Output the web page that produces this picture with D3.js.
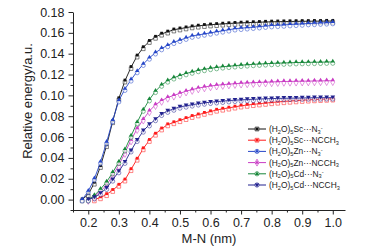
<!DOCTYPE html>
<html>
<head>
<meta charset="utf-8">
<script src="https://cdn.jsdelivr.net/npm/d3@7"></script>
<style>
  body { margin: 0; background: #fff; }
  text { font-family: "Liberation Sans", Arial, sans-serif; }
</style>
</head>
<body>
<div id="chart"></div>
<script>
// M-N distance (nm)
const dist = [0.18, 0.20, 0.22, 0.24, 0.26, 0.28, 0.30, 0.32, 0.34, 0.36, 0.38, 0.40, 0.42, 0.44,
  0.46, 0.48, 0.50, 0.52, 0.54, 0.56, 0.58, 0.60, 0.62, 0.64, 0.66, 0.68, 0.70, 0.72, 0.74,
  0.76, 0.78, 0.80, 0.82, 0.84, 0.86, 0.88, 0.90, 0.92, 0.94, 0.96, 0.98, 1.00];

// relative energy (a.u.), null = no point
const scN3 = [0.000, 0.005, 0.016, 0.032, 0.052, 0.075, 0.097, 0.114, 0.127, 0.138, 0.146, 0.152,
  0.156, 0.159, 0.161, 0.163, 0.164, 0.165, 0.166, 0.1667, 0.1673, 0.1678, 0.1682, 0.1686, 0.169,
  0.1693, 0.1696, 0.1698, 0.170, 0.1702, 0.1704, 0.1706, 0.1707, 0.1708, 0.1709, 0.171, 0.1711,
  0.1711, 0.1712, 0.1712, 0.1713, 0.1713];
const scNCCH3 = [null, null, 0.000, 0.002, 0.005, 0.009, 0.014, 0.019, 0.029, 0.039, 0.049, 0.057,
  0.063, 0.068, 0.072, 0.074, 0.076, 0.078, 0.080, 0.0815, 0.083, 0.0845, 0.086, 0.087, 0.088,
  0.089, 0.090, 0.0907, 0.0914, 0.092, 0.0926, 0.0932, 0.0937, 0.0942, 0.0946, 0.095, 0.0954,
  0.0957, 0.096, 0.0963, 0.0965, 0.0967];
const znN3 = [0.000, 0.008, 0.020, 0.036, 0.055, 0.076, 0.095, 0.106, 0.115, 0.123, 0.130, 0.136,
  0.141, 0.145, 0.148, 0.151, 0.153, 0.155, 0.157, 0.158, 0.159, 0.160, 0.161, 0.162, 0.163,
  0.164, 0.1645, 0.165, 0.1655, 0.166, 0.1665, 0.167, 0.1673, 0.1676, 0.168, 0.1683, 0.1686,
  0.169, 0.1692, 0.1695, 0.1697, 0.170];
const znNCCH3 = [null, 0.000, 0.003, 0.008, 0.014, 0.023, 0.033, 0.045, 0.057, 0.068, 0.077, 0.085,
  0.091, 0.095, 0.098, 0.100, 0.102, 0.104, 0.1055, 0.107, 0.108, 0.109, 0.1097, 0.1103, 0.1108,
  0.1112, 0.1116, 0.1119, 0.1122, 0.1125, 0.1127, 0.1129, 0.1131, 0.1133, 0.1134, 0.1135, 0.1136,
  0.1137, 0.1138, 0.1139, 0.114, 0.114];
const cdN3 = [null, 0.000, 0.004, 0.010, 0.017, 0.026, 0.036, 0.048, 0.061, 0.074, 0.086, 0.096,
  0.104, 0.110, 0.114, 0.117, 0.119, 0.121, 0.1225, 0.124, 0.125, 0.126, 0.1268, 0.1275, 0.128,
  0.1285, 0.129, 0.1294, 0.1298, 0.1301, 0.1304, 0.1307, 0.1309, 0.1311, 0.1313, 0.1315, 0.1316,
  0.1317, 0.1318, 0.1319, 0.132, 0.1321];
const cdNCCH3 = [null, 0.000, 0.002, 0.006, 0.011, 0.019, 0.027, 0.036, 0.047, 0.057, 0.066, 0.072,
  0.077, 0.082, 0.085, 0.087, 0.089, 0.090, 0.091, 0.092, 0.0928, 0.0935, 0.094, 0.0945, 0.095,
  0.0954, 0.0957, 0.096, 0.0963, 0.0965, 0.0967, 0.0969, 0.0971, 0.0972, 0.0973, 0.0974, 0.0975,
  0.0976, 0.0977, 0.0977, 0.0978, 0.0978];

// legend labels: metal and ligand
const metals = ['Sc', 'Sc', 'Zn', 'Zn', 'Cd', 'Cd'];
const ligands = ['N3-', 'NCCH3', 'N3-', 'NCCH3', 'N3-', 'NCCH3'];

const xTicks = [0.2, 0.3, 0.4, 0.5, 0.6, 0.7, 0.8, 0.9, 1.0];
const yTicks = [0.00, 0.02, 0.04, 0.06, 0.08, 0.10, 0.12, 0.14, 0.16, 0.18];

const triDown = {
  draw(ctx, size) {
    const r = Math.sqrt(size / 1.3);
    ctx.moveTo(0, r);
    ctx.lineTo(r * 0.95, -r * 0.6);
    ctx.lineTo(-r * 0.95, -r * 0.6);
    ctx.closePath();
  }
};

const series = [
  { values: scN3, color: '#111111', filled: d3.symbolSquare, hollow: d3.symbolSquare },
  { values: scNCCH3, color: '#ff1a1a', filled: d3.symbolSquare, hollow: d3.symbolSquare },
  { values: znN3, color: '#2546c8', filled: d3.symbolTriangle, hollow: d3.symbolCircle },
  { values: znNCCH3, color: '#c93cc4', filled: d3.symbolTriangle, hollow: d3.symbolDiamond },
  { values: cdN3, color: '#17873a', filled: d3.symbolTriangle, hollow: d3.symbolCircle },
  { values: cdNCCH3, color: '#22228f', filled: triDown, hollow: d3.symbolCircle }
];

const width = 366;
const height = 250;
const margin = { top: 12, right: 21, bottom: 40, left: 73 };

const svg = d3.select('#chart').append('svg')
  .attr('width', width)
  .attr('height', height);

const x = d3.scaleLinear()
  .domain([0.15, 1.04])
  .range([margin.left, width - margin.right]);

const y = d3.scaleLinear()
  .domain([-0.01, 0.18])
  .range([height - margin.bottom, margin.top]);

// minor ticks
svg.append('g')
  .attr('transform', `translate(0,${height - margin.bottom})`)
  .call(d3.axisBottom(x).tickValues([0.15, 0.25, 0.35, 0.45, 0.55, 0.65, 0.75, 0.85, 0.95])
    .tickSize(2.5).tickFormat(''))
  .call(g => g.select('.domain').remove());
svg.append('g')
  .attr('transform', `translate(${margin.left},0)`)
  .call(d3.axisLeft(y).tickValues([-0.01, 0.01, 0.03, 0.05, 0.07, 0.09, 0.11, 0.13, 0.15, 0.17])
    .tickSize(2.5).tickFormat(''))
  .call(g => g.select('.domain').remove());

// main axes
svg.append('g')
  .attr('transform', `translate(0,${height - margin.bottom})`)
  .call(d3.axisBottom(x).tickValues(xTicks).tickFormat(d3.format('.1f'))
    .tickSize(4.5).tickSizeOuter(0).tickPadding(4));
svg.append('g')
  .attr('transform', `translate(${margin.left},0)`)
  .call(d3.axisLeft(y).tickValues(yTicks).tickFormat(d3.format('.2f'))
    .tickSize(4.5).tickSizeOuter(0).tickPadding(4));

svg.selectAll('.tick text')
  .attr('font-family', '"Liberation Sans", Arial, sans-serif')
  .attr('font-size', 12.5)
  .attr('fill', '#222');
svg.selectAll('.domain, .tick line').attr('stroke', '#222');

// axis titles
svg.append('text')
  .attr('x', 209)
  .attr('y', 243)
  .attr('text-anchor', 'middle')
  .attr('font-size', 13)
  .attr('fill', '#222')
  .text('M-N (nm)');

svg.append('text')
  .attr('transform', 'translate(32,101) rotate(-90)')
  .attr('text-anchor', 'middle')
  .attr('font-size', 13)
  .attr('fill', '#222')
  .text('Relative energy/a.u.');

// curves
const line = d3.line()
  .defined(d => d[1] !== null)
  .x(d => x(d[0]))
  .y(d => y(d[1]));

series.forEach(s => {
  const pts = dist.map((d, i) => [d, s.values[i]]);
  const g = svg.append('g');
  g.append('path')
    .attr('d', line(pts))
    .attr('fill', 'none')
    .attr('stroke', s.color)
    .attr('stroke-width', 0.9);

  const valid = pts.filter(d => d[1] !== null);
  g.selectAll('.hollow')
    .data(valid)
    .enter().append('path')
    .attr('class', 'hollow')
    .attr('transform', d => `translate(${x(d[0])},${y(d[1]) + 1.4})`)
    .attr('d', d3.symbol().type(s.hollow).size(13))
    .attr('fill', '#fff')
    .attr('fill-opacity', 0.7)
    .attr('stroke', s.color)
    .attr('stroke-opacity', 0.75)
    .attr('stroke-width', 0.7);
  g.selectAll('.filled')
    .data(valid)
    .enter().append('path')
    .attr('class', 'filled')
    .attr('transform', d => `translate(${x(d[0])},${y(d[1]) - 0.7})`)
    .attr('d', d3.symbol().type(s.filled).size(8))
    .attr('fill', s.color);
});

// legend
const legend = svg.append('g')
  .attr('font-size', 8.4)
  .attr('fill', '#222');

series.forEach((s, i) => {
  const ly = 129 + i * 11.2;
  const row = legend.append('g').attr('transform', `translate(248,${ly})`);
  row.append('line')
    .attr('x1', 0).attr('x2', 18)
    .attr('stroke', s.color).attr('stroke-width', 1);
  row.append('path')
    .attr('transform', 'translate(9,0)')
    .attr('d', d3.symbol().type(s.hollow).size(14))
    .attr('fill', '#fff').attr('stroke', s.color).attr('stroke-width', 0.7);
  row.append('path')
    .attr('transform', 'translate(9,0)')
    .attr('d', d3.symbol().type(s.filled).size(7))
    .attr('fill', s.color);

  const t = row.append('text').attr('x', 21).attr('y', 3);
  t.append('tspan').text('(H');
  t.append('tspan').attr('font-size', 5.6).attr('dy', 1.5).text('2');
  t.append('tspan').attr('dy', -1.5).text('O)');
  t.append('tspan').attr('font-size', 5.6).attr('dy', 1.5).text('5');
  t.append('tspan').attr('dy', -1.5).text(metals[i] + '···');
  if (ligands[i] === 'N3-') {
    t.append('tspan').text('N');
    t.append('tspan').attr('font-size', 5.6).attr('dy', 1.5).text('3');
    t.append('tspan').attr('font-size', 5.6).attr('dy', -4).text('-');
  } else {
    t.append('tspan').text('NCCH');
    t.append('tspan').attr('font-size', 5.6).attr('dy', 1.5).text('3');
  }
});
</script>
</body>
</html>
